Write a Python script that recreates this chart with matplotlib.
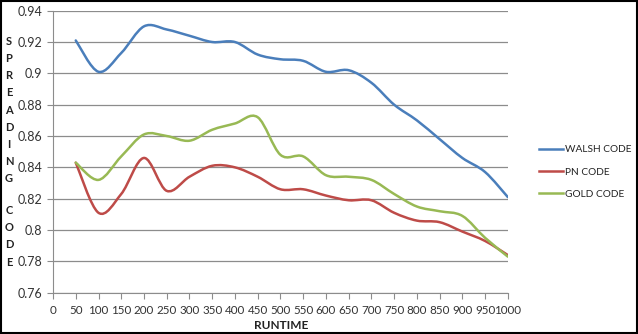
import numpy as np
import matplotlib
matplotlib.use("Agg")
import matplotlib.pyplot as plt
from matplotlib.path import Path
from matplotlib.patches import PathPatch, Rectangle
from matplotlib.lines import Line2D
from matplotlib.ticker import FuncFormatter

runtime = [50, 100, 150, 200, 250, 300, 350, 400, 450, 500,
           550, 600, 650, 700, 750, 800, 850, 900, 950, 1000]
walsh = [0.921, 0.901, 0.913, 0.930, 0.928, 0.924, 0.920, 0.920, 0.912, 0.909,
         0.908, 0.901, 0.902, 0.894, 0.880, 0.870, 0.858, 0.846, 0.837, 0.821]
pn = [0.843, 0.811, 0.823, 0.846, 0.825, 0.834, 0.841, 0.840, 0.834, 0.826,
      0.826, 0.822, 0.819, 0.819, 0.811, 0.806, 0.805, 0.799, 0.793, 0.784]
gold = [0.843, 0.832, 0.847, 0.861, 0.860, 0.857, 0.864, 0.868, 0.872, 0.848,
        0.847, 0.835, 0.834, 0.832, 0.823, 0.815, 0.812, 0.809, 0.795, 0.783]

series = [("WALSH CODE", walsh, "#4a7ebb"),
          ("PN CODE", pn, "#be4b48"),
          ("GOLD CODE", gold, "#98b954")]

plt.rcParams['font.family'] = ['Lato', 'DejaVu Sans']


def smooth_path(x, y):
    # excel-like smoothing: catmull-rom segments as cubic beziers
    pts = np.column_stack([x, y]).astype(float)
    ext = np.vstack([pts[0], pts, pts[-1]])
    verts = [pts[0]]
    codes = [Path.MOVETO]
    for i in range(len(pts) - 1):
        p0, p1, p2, p3 = ext[i], ext[i + 1], ext[i + 2], ext[i + 3]
        verts += [p1 + (p2 - p0) / 6, p2 - (p3 - p1) / 6, p2]
        codes += [Path.CURVE4] * 3
    return Path(verts, codes)


fig = plt.figure(figsize=(6.38, 3.34), dpi=100)
ax = fig.add_axes([0.0831, 0.1237, 0.7129, 0.8443])

for label, vals, color in series:
    ax.add_patch(PathPatch(smooth_path(runtime, vals), facecolor="none",
                           edgecolor=color, lw=1.8, capstyle="round", zorder=3))

ax.set_xlim(0, 1000)
ax.set_ylim(0.76, 0.94)
ax.set_xticks(np.arange(0, 1001, 50))
ax.set_yticks(np.arange(0.76, 0.9401, 0.02))
ax.yaxis.set_major_formatter(FuncFormatter(lambda v, p: f"{round(v, 2):g}"))
ax.grid(axis="y", color="#8c8c8c", lw=0.9)
ax.set_axisbelow(True)
for s in ["top", "right"]:
    ax.spines[s].set_visible(False)
for s in ["left", "bottom"]:
    ax.spines[s].set_color("#8c8c8c")
ax.tick_params(colors="#8c8c8c", labelcolor="#333333", labelsize=9, length=4, width=0.8)
ax.tick_params(axis="x", pad=5, labelsize=8.4)

fig.text(0.44, 1 - 325.5 / 334, "RUNTIME", fontsize=8.5, fontweight="bold",
         ha="center", va="center", color="#222222")

letters = list("SPREADING") + [""] + list("CODE")
for i, ch in enumerate(letters):
    yy = 41.7 + i * 17.1 if i < 9 else 41.7 + 8 * 17.1 + 31.7 + (i - 10) * 17.3
    fig.text(9 / 638, 1 - yy / 334, ch, fontsize=8, fontweight="bold",
             ha="center", va="center", color="#222222")

handles = [Line2D([], [], color=c, lw=1.8) for _, _, c in series]
fig.legend(handles, [s[0] for s in series], loc="center left",
           bbox_to_anchor=(530 / 638, 1 - 172 / 334), frameon=False,
           fontsize=7.3, handlelength=2.4, handletextpad=0.15, labelspacing=1.3,
           labelcolor="#222222")

fig.patches.append(Rectangle((0.001, 0.002), 0.997, 0.995, transform=fig.transFigure,
                             fill=False, edgecolor="black", lw=1.5))

fig.savefig("out.png", dpi=100)
